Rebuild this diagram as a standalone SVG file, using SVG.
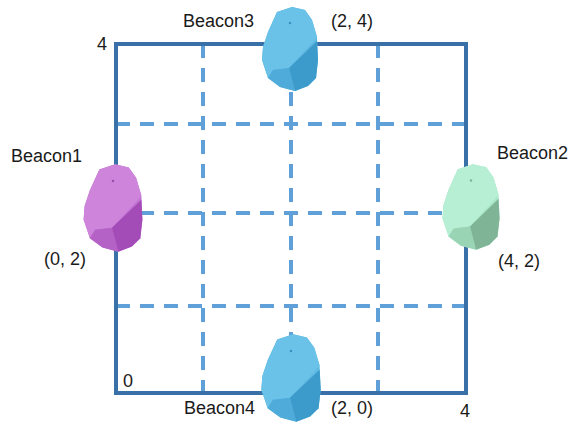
<svg xmlns="http://www.w3.org/2000/svg" xmlns:xlink="http://www.w3.org/1999/xlink" width="573" height="423" viewBox="0 0 573 423">
  <style>
    .frame { fill: none; stroke: #3a70a8; stroke-width: 4; }
    .grid { stroke: #5fa0d8; stroke-width: 4; stroke-dasharray: 14 10; fill: none; }
    .lbl { font-family: "Liberation Sans", Arial, sans-serif; font-size: 18px; fill: #1a1a1a; }
  </style>
  <defs>
    <!-- beacon outline and facets, centred on (0,0) -->
    <path id="bk-body" d="M-13,-37 L2,-42 L15,-39 L22,-29 L27,-12 L28,11 L26,29 L18,37 L5,42 L-10,38 L-22,29 L-28,11 L-27,-2 L-22,-17 Z"/>
    <path id="bk-top" d="M-13,-37 L2,-42 L15,-39 L22,-29 L27,-12 L23,-7 L-1,19 L-17,21 L-22,29 L-28,11 L-27,-2 L-22,-17 Z"/>
    <path id="bk-shade" d="M27,-8 L28,11 L26,29 L18,37 L5,42 L-1,19 Z"/>
    <path id="bk-low" d="M-22,29 L-17,21 L-1,19 L5,42 L-10,38 Z"/>
    <circle id="bk-dot" cx="0" cy="-26" r="1.2"/>
  </defs>

  <g id="connectors">
    <!-- dashed grid lines -->
    <line class="grid" x1="203" y1="44" x2="203" y2="393"/>
    <line class="grid" x1="291" y1="44" x2="291" y2="393"/>
    <line class="grid" x1="378" y1="44" x2="378" y2="393"/>
    <line class="grid" x1="116" y1="124" x2="466" y2="124"/>
    <line class="grid" x1="116" y1="213" x2="466" y2="213"/>
    <line class="grid" x1="116" y1="306" x2="466" y2="306"/>
    <!-- outer square -->
    <rect class="frame" x="116" y="44" width="350" height="349"/>
  </g>

  <g id="axis-labels">
    <text class="lbl" x="97" y="50">4</text>
    <text class="lbl" x="123" y="387">0</text>
    <text class="lbl" x="460" y="417">4</text>
  </g>

  <g id="beacon1">
    <g transform="translate(113,208) scale(1.05,1.04)">
      <use xlink:href="#bk-body" fill="#c274d2"/>
      <use xlink:href="#bk-top" fill="#cd84da"/>
      <use xlink:href="#bk-low" fill="#b562c7"/>
      <use xlink:href="#bk-shade" fill="#a34cb7"/>
      <use xlink:href="#bk-dot" fill="#9a4aa8"/>
    </g>
    <text class="lbl" x="11" y="162">Beacon1</text>
    <text class="lbl" x="44" y="265">(0, 2)</text>
  </g>

  <g id="beacon2">
    <g transform="translate(471,207) scale(1.02,1.02)">
      <use xlink:href="#bk-body" fill="#a8e6c8"/>
      <use xlink:href="#bk-top" fill="#b6efd4"/>
      <use xlink:href="#bk-low" fill="#99d4b5"/>
      <use xlink:href="#bk-shade" fill="#7fb596"/>
      <use xlink:href="#bk-dot" fill="#7fb596"/>
    </g>
    <text class="lbl" x="497" y="159">Beacon2</text>
    <text class="lbl" x="498" y="267">(4, 2)</text>
  </g>

  <g id="beacon3">
    <g transform="translate(290,49)">
      <use xlink:href="#bk-body" fill="#5fb9e2"/>
      <use xlink:href="#bk-top" fill="#6ac2e8"/>
      <use xlink:href="#bk-low" fill="#4fabd9"/>
      <use xlink:href="#bk-shade" fill="#3d9bcb"/>
      <use xlink:href="#bk-dot" fill="#3a8fbf"/>
    </g>
    <text class="lbl" x="183" y="27">Beacon3</text>
    <text class="lbl" x="331" y="27">(2, 4)</text>
  </g>

  <g id="beacon4">
    <g transform="translate(291,378) scale(1.06,1.04)">
      <use xlink:href="#bk-body" fill="#5fb9e2"/>
      <use xlink:href="#bk-top" fill="#6ac2e8"/>
      <use xlink:href="#bk-low" fill="#4fabd9"/>
      <use xlink:href="#bk-shade" fill="#3d9bcb"/>
      <use xlink:href="#bk-dot" fill="#3a8fbf"/>
    </g>
    <text class="lbl" x="184" y="414">Beacon4</text>
    <text class="lbl" x="331" y="414">(2, 0)</text>
  </g>
</svg>
